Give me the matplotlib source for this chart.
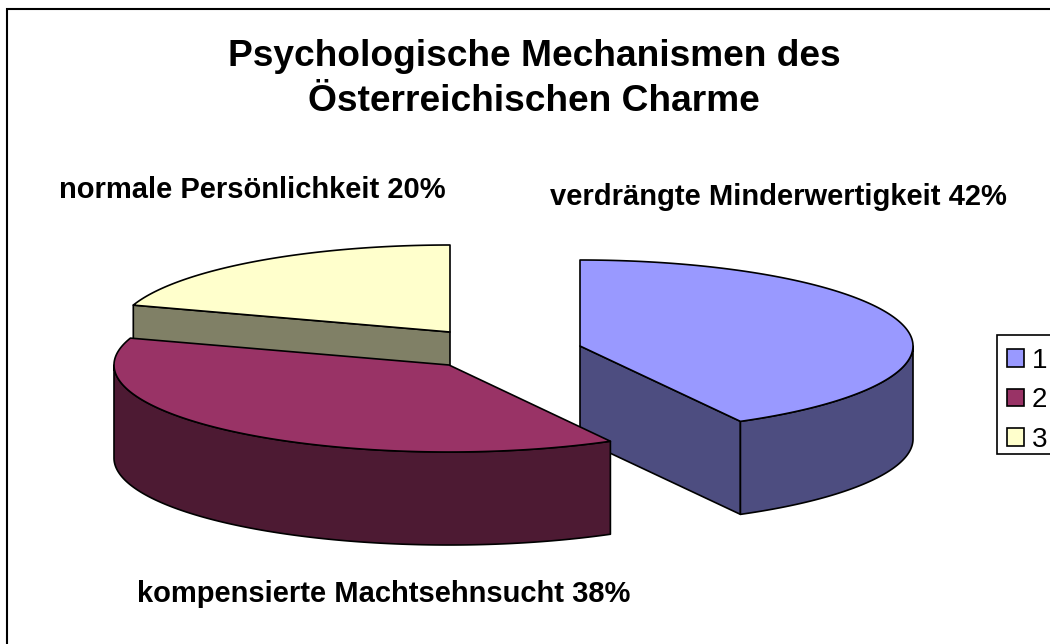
import numpy as np
import matplotlib
matplotlib.use("Agg")
import matplotlib.pyplot as plt
from matplotlib.patches import Patch, Polygon, Rectangle

title = "Psychologische Mechanismen des\nÖsterreichischen Charme"
values = [42, 38, 20]
legend_labels = ["1", "2", "3"]
slice_labels = ["verdrängte Minderwertigkeit 42%", "kompensierte Machtsehnsucht 38%", "normale Persönlichkeit 20%"]
top_colors = ["#9999FF", "#993366", "#FFFFCC"]
wall_colors = ["#4D4D80", "#4D1A33", "#808066"]
centers = [(580, 346), (449, 365), (450, 332)]
radii = [(333, 86), (335, 87), (333, 87)]
depths = [93, 93, 93]
label_pos = [(778, 205), (383.5, 602), (252.5, 198)]
draw_order = [2, 0, 1]

plt.rcParams["font.family"] = ["Liberation Sans", "DejaVu Sans"]
fig = plt.figure(figsize=(10.5, 6.44), dpi=100)
ax = fig.add_axes([0, 0, 1, 1])
ax.set_xlim(0, 1050)
ax.set_ylim(644, 0)
ax.axis("off")
ax.add_patch(Rectangle((7, 9), 1200, 800, fc="white", ec="black", lw=1.5))

cum = np.cumsum([0] + values) / sum(values) * 360


def rim(i, a0, a1, dy=0):
    t = np.radians(np.linspace(a0, a1, 200))
    cx, cy = centers[i]
    rx, ry = radii[i]
    return np.column_stack([cx + rx * np.sin(t), cy - ry * np.cos(t) + dy])


for i in draw_order:
    a0, a1 = cum[i], cum[i + 1]
    cx, cy = centers[i]
    d = depths[i]
    kw = dict(ec="black", lw=1.2, joinstyle="round")
    for ang, vis in ((a1, np.sin(np.radians(a1)) > 1e-6), (a0, np.sin(np.radians(a0)) < -1e-6)):
        if vis:
            p = rim(i, ang, ang)[0]
            ax.add_patch(Polygon([(cx, cy), p, (p[0], p[1] + d), (cx, cy + d)], fc=wall_colors[i], **kw))
    w0, w1 = max(a0, 90), min(a1, 270)
    if w1 > w0:
        ax.add_patch(Polygon(np.vstack([rim(i, w0, w1), rim(i, w0, w1, d)[::-1]]), fc=wall_colors[i], **kw))
    ax.add_patch(Polygon(np.vstack([[(cx, cy)], rim(i, a0, a1)]), fc=top_colors[i], **kw))

ax.text(534, 79, title, ha="center", va="center", fontsize=26.7, fontweight="bold", linespacing=1.4)
for (x, y), s in zip(label_pos, slice_labels):
    ax.text(x, y, s, ha="center", va="baseline", fontsize=21, fontweight="bold")

ax.add_patch(Rectangle((997, 335), 200, 119, fc="white", ec="black", lw=1.2))
handles = [Patch(fc=c, ec="black", lw=1.2) for c in top_colors]
leg = ax.legend(handles, legend_labels, loc="upper left", bbox_to_anchor=(997 / 1050, 1 - 338 / 644),
                borderaxespad=0, frameon=False, fontsize=20, handlelength=0.6, handleheight=0.6,
                handletextpad=0.28, labelspacing=0.48, borderpad=0.36)

fig.savefig("out.png", dpi=100)
